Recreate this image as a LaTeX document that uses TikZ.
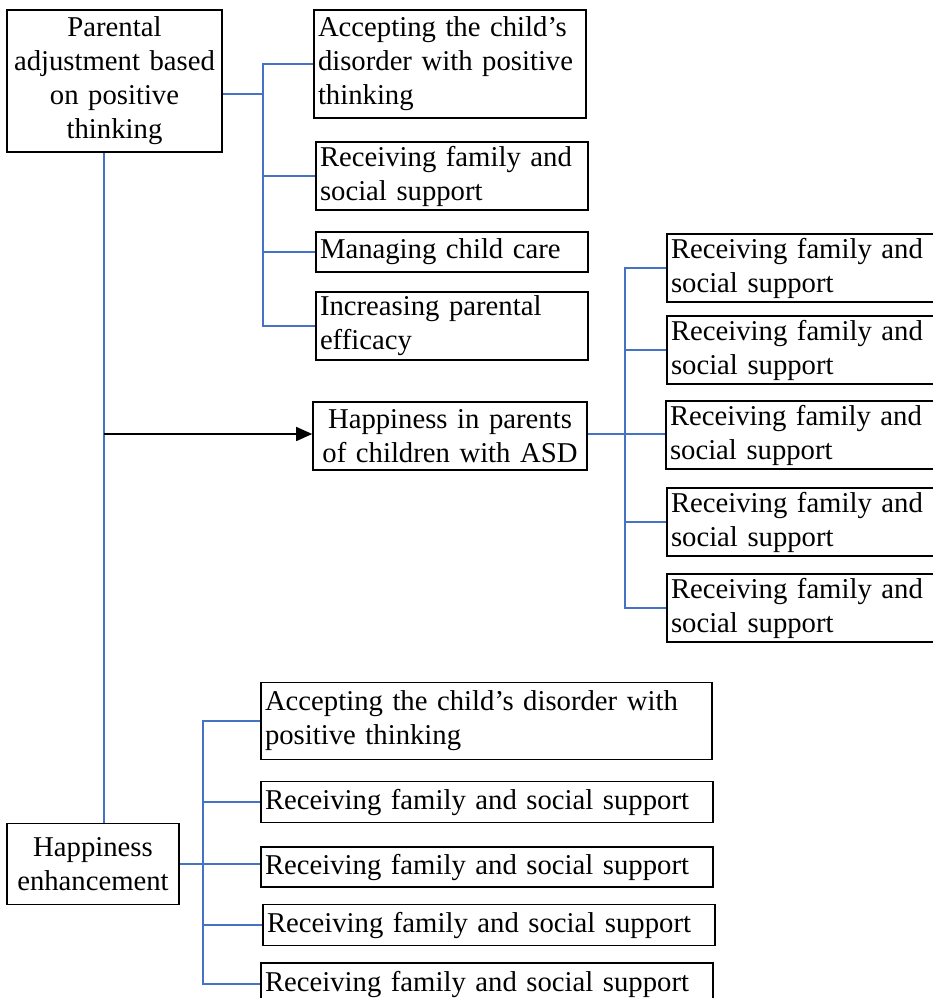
\documentclass[tikz,border=0pt]{standalone}
\usepackage{fontspec}
\setmainfont{Liberation Serif}
\usetikzlibrary{arrows.meta}
\newcommand\tnrfont{\fontsize{28.7}{34}\selectfont}
\definecolor{linkblue}{RGB}{68,114,196}
\tikzset{
  box/.style={draw=black, line width=1.6pt, inner xsep=4pt, inner ysep=0pt,
    font=\tnrfont, align=left},
  cbox/.style={box, align=center},
  bl/.style={draw=linkblue, line width=1.7pt},
  arr/.style={draw=black, line width=1.6pt, -{Triangle[length=16pt,width=14pt]}}
}
\begin{document}
\begin{tikzpicture}[x=1pt,y=-1pt]
\useasboundingbox (0,0) rectangle (933,998);
% top-left
\node[cbox, minimum width=215pt, minimum height=142pt, text width=207pt] (A) at (114.5,81)
  {Parental\\adjustment based\\on positive\\thinking};
\node[box, minimum width=272pt, minimum height=108pt, text width=264pt] (B1) at (450,64)
  {Accepting the child’s\\disorder with positive\\thinking};
\node[box, minimum width=272pt, minimum height=68pt, text width=264pt] (B2) at (452,176)
  {Receiving family and\\social support};
\node[box, minimum width=272pt, minimum height=40pt, text width=264pt] (B3) at (452,252)
  {Managing child care};
\node[box, minimum width=272pt, minimum height=68pt, text width=264pt] (B4) at (452,326)
  {Increasing parental\\efficacy};
% middle
\node[cbox, minimum width=274pt, minimum height=68pt, text width=266pt] (C) at (450,436)
  {Happiness in parents\\of children with ASD};
\node[box, minimum width=274pt, minimum height=68pt, text width=266pt] (D1) at (804,268)
  {Receiving family and\\social support};
\node[box, minimum width=274pt, minimum height=68pt, text width=266pt] (D2) at (804,350)
  {Receiving family and\\social support};
\node[box, minimum width=275pt, minimum height=68pt, text width=267pt] (D3) at (803.5,435)
  {Receiving family and\\social support};
\node[box, minimum width=274pt, minimum height=68pt, text width=266pt] (D4) at (804,522)
  {Receiving family and\\social support};
\node[box, minimum width=274pt, minimum height=68pt, text width=266pt] (D5) at (804,608)
  {Receiving family and\\social support};
% bottom
\node[cbox, minimum width=172pt, minimum height=81pt, text width=164pt] (E) at (93,864)
  {Happiness\\enhancement};
\node[box, minimum width=451pt, minimum height=77pt, text width=443pt] (F1) at (486.5,721)
  {Accepting the child’s disorder with\\positive thinking};
\node[box, minimum width=452pt, minimum height=41pt, text width=444pt] (F2) at (487,802)
  {Receiving family and social support};
\node[box, minimum width=452pt, minimum height=40pt, text width=444pt] (F3) at (487,867)
  {Receiving family and social support};
\node[box, minimum width=452pt, minimum height=41pt, text width=444pt] (F4) at (489,925)
  {Receiving family and social support};
\node[box, minimum width=452pt, minimum height=42pt, text width=444pt] (F5) at (487,984)
  {Receiving family and social support};
% junction coordinates
\coordinate (ja) at (263,94);
\coordinate (jd) at (625,434);
\coordinate (je) at (203,864);
\coordinate (mx) at (104,434);
% connectors top group
\draw[bl] (A.east |- ja) -- (ja);
\draw[bl] (B1.west) -| (ja);
\draw[bl] (B4.west) -| (ja);
\draw[bl] (B2.west) -- (B2.west -| ja);
\draw[bl] (B3.west) -- (B3.west -| ja);
% main vertical line
\draw[bl] (A.south -| mx) -- (E.north -| mx);
% arrow
\draw[arr] (mx) -- (C.west |- mx);
% middle group
\draw[bl] (C.east |- jd) -- (D3.west |- jd);
\draw[bl] (D1.west) -| (jd);
\draw[bl] (D5.west) -| (jd);
\draw[bl] (D2.west) -- (D2.west -| jd);
\draw[bl] (D4.west) -- (D4.west -| jd);
% bottom group
\draw[bl] (E.east |- je) -- (F3.west |- je);
\draw[bl] (F1.west) -| (je);
\draw[bl] (F5.west) -| (je);
\draw[bl] (F2.west) -- (F2.west -| je);
\draw[bl] (F4.west) -- (F4.west -| je);
\end{tikzpicture}
\end{document}
